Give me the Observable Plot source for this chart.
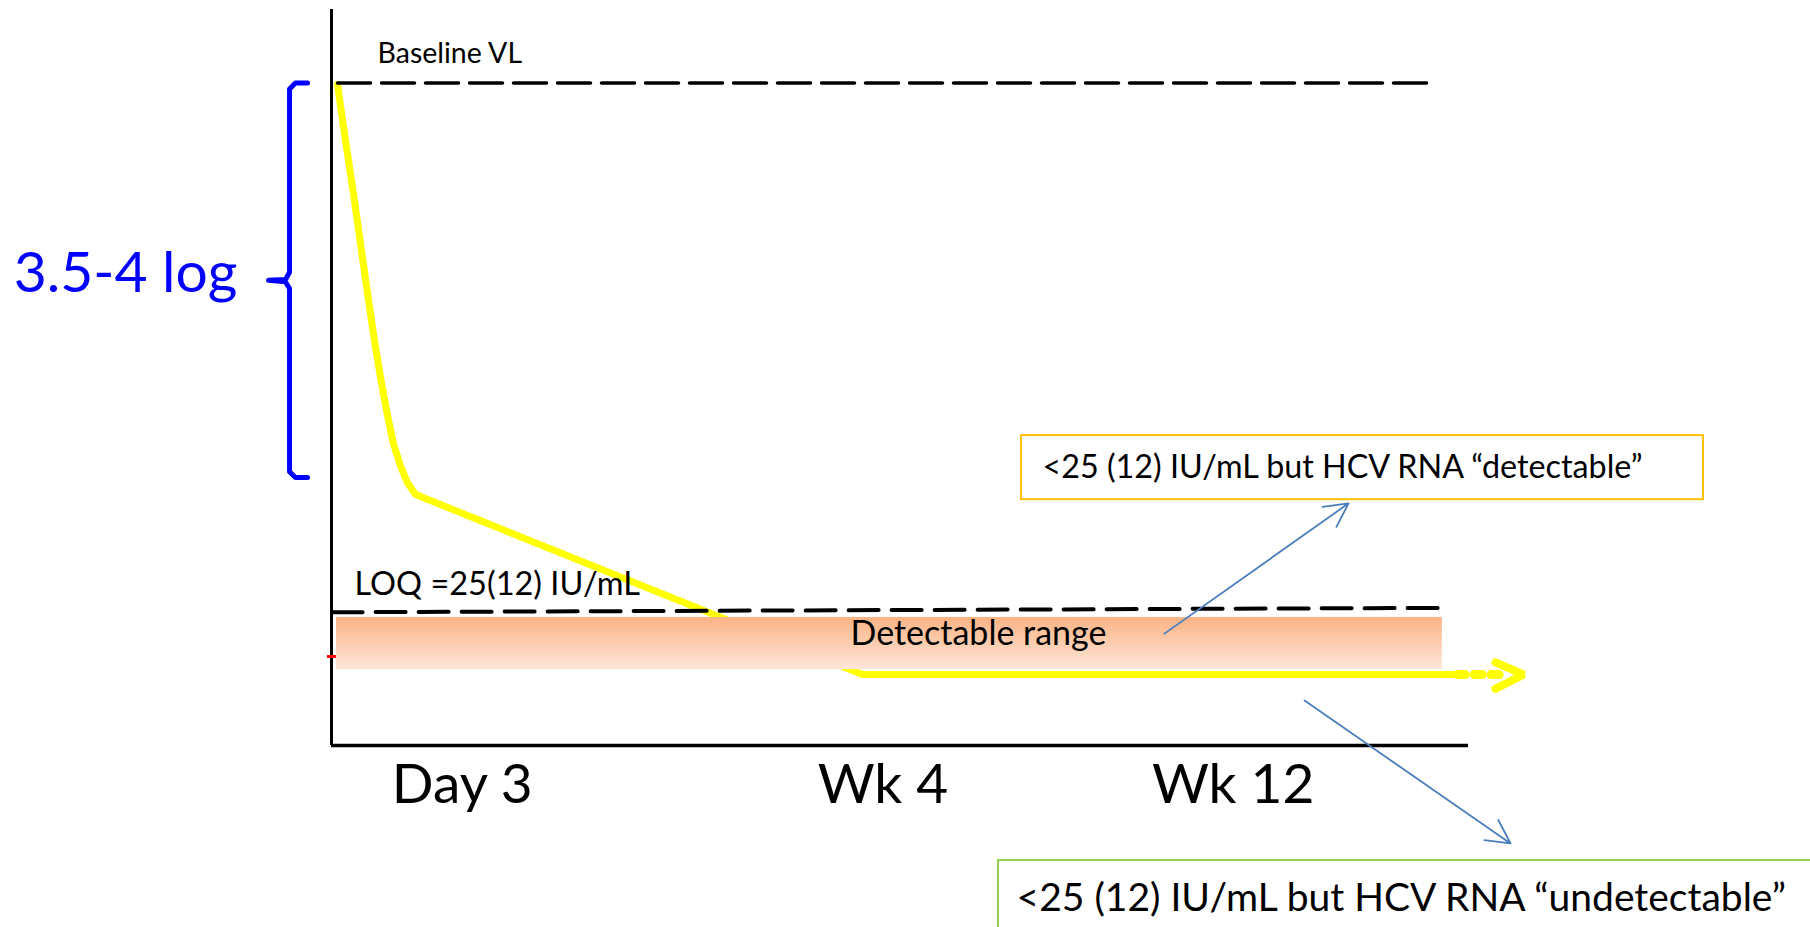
<!DOCTYPE html>
<html>
<head>
<meta charset="utf-8">
<script src="https://cdn.jsdelivr.net/npm/d3@7"></script>
<script src="https://cdn.jsdelivr.net/npm/@observablehq/plot@0.6"></script>
<style>
  html, body { margin: 0; padding: 0; background: #fff; }
  #chart svg { display: block; }
</style>
</head>
<body>
<div id="chart"></div>
<script>
// ---- Data (abstract units: t = time position, v = log viral load) ----
const timeLabels = ["Day 3", "Wk 4", "Wk 12"];
const timeLabelT = [11.5, 48.5, 79.3];

const baselineVL = 9.0;           // baseline viral load level
const loqLevel = [1.81, 1.87];    // LOQ dashed line (left, right)
const bandTop = 1.74;             // detectable range band
const bandBottom = 1.03;

// viral load decline curve (first phase)
const declineT = [0.53, 1.23, 1.93, 2.55, 3.17, 3.78, 4.31, 4.93, 5.45, 6.07, 6.68, 7.39, 46.7, 99.0];
const declineV = [8.98, 8.22, 7.50, 6.82, 6.14, 5.50, 5.00, 4.48, 4.10, 3.80, 3.57, 3.41, 0.965, 0.965];
// dotted continuation and arrow head
const continueT = [99.0, 103.0];
const continueV = [0.965, 0.965];
const chevronT = [102.37, 104.85, 102.37];
const chevronV = [1.13, 0.965, 0.77];

// bracket "3.5-4 log"
const bracketT = [-2.11, -3.17, -3.69, -3.69, -4.05, -5.54, -4.05, -3.69, -3.69, -3.17, -2.11];
const bracketV = [9.0, 9.0, 8.92, 6.43, 6.33, 6.32, 6.30, 6.21, 3.72, 3.64, 3.64];

const labels = [
  {text: "Baseline VL", t: 4.05, v: 9.40, size: 28.5, color: "#000", anchor: "start"},
  {text: "LOQ =25(12) IU/mL", t: 2.02, v: 2.19, size: 32.5, color: "#000", anchor: "start"},
  {text: "Detectable range", t: 56.9, v: 1.51, size: 34, color: "#000", anchor: "middle"},
  {text: "3.5-4 log", t: -27.95, v: 6.41, size: 57, color: "#0000FF", anchor: "start"}
];

const boxes = [
  {text: "<25 (12) IU/mL but HCV RNA \u201Cdetectable\u201D", x1: 60.69, x2: 120.67, y1: 4.21, y2: 3.34, tt: 62.53, tv: 3.78, size: 32.3, stroke: "#FFC000"},
  {text: "<25 (12) IU/mL but HCV RNA \u201Cundetectable\u201D", x1: 58.66, x2: 131, y1: -1.5625, y2: -2.7, tt: 60.25, tv: -2.08, size: 39, stroke: "#92D050"}
];

const arrows = [
  {x1: 73.26, y1: 1.52, x2: 89.45, y2: 3.29},
  {x1: 85.58, y1: 0.61, x2: 103.7, y2: -1.33}
];

const redTickV = 1.21;

// ---- Build ----
const pts = (ts, vs) => ts.map((t, i) => ({t, v: vs[i]}));

const gradientDefs = () => {
  const ns = "http://www.w3.org/2000/svg";
  const defs = document.createElementNS(ns, "defs");
  defs.innerHTML = `<linearGradient id="bandGrad" x1="0" y1="0" x2="0" y2="1">
    <stop offset="0" stop-color="#FBB384"/>
    <stop offset="1" stop-color="#FDE7DA"/>
  </linearGradient>`;
  return defs;
};

const chart = Plot.plot({
  width: 1810,
  height: 927,
  marginLeft: 331,
  marginRight: 342,
  marginTop: 9,
  marginBottom: 182,
  x: {domain: [0, 100], axis: null},
  y: {domain: [0, 10], axis: null},
  style: {fontFamily: "Lato, 'Open Sans', sans-serif", background: "#fff", overflow: "visible"},
  marks: [
    gradientDefs,
    // decline curve
    Plot.line(pts(declineT, declineV), {x: "t", y: "v", stroke: "#FFFF00", strokeWidth: 7, strokeLinejoin: "round", curve: "linear"}),
    Plot.line(pts(continueT, continueV), {x: "t", y: "v", stroke: "#FFFF00", strokeWidth: 9, strokeDasharray: "8,9"}),
    Plot.line(pts(chevronT, chevronV), {x: "t", y: "v", stroke: "#FFFF00", strokeWidth: 8, strokeLinecap: "round", strokeLinejoin: "miter"}),
    // detectable range band
    Plot.rect([{x1: 0.44, x2: 97.7, y1: bandTop, y2: bandBottom}], {x1: "x1", x2: "x2", y1: "y1", y2: "y2", fill: "url(#bandGrad)"}),
    // LOQ dashed line
    Plot.line(pts([0.1, 97.7], loqLevel), {x: "t", y: "v", stroke: "#000", strokeWidth: 4, strokeDasharray: "30,13"}),
    // baseline dashed line
    Plot.line(pts([0.53, 96.6], [baselineVL, baselineVL]), {x: "t", y: "v", stroke: "#000", strokeWidth: 3.5, strokeDasharray: "33,11"}),
    // axes
    Plot.ruleX([0], {y1: 0, y2: 10, stroke: "#000", strokeWidth: 3}),
    Plot.ruleY([0], {x1: 0, x2: 100, stroke: "#000", strokeWidth: 3.5}),
    // red tick
    Plot.ruleY([redTickV], {x1: -0.35, x2: 0.44, stroke: "#FF0000", strokeWidth: 3}),
    // bracket
    Plot.line(pts(bracketT, bracketV), {x: "t", y: "v", stroke: "#0000FF", strokeWidth: 5, strokeLinejoin: "round", strokeLinecap: "round"}),
    // labels
    ...labels.map(d => Plot.text([d], {x: "t", y: "v", text: "text", fontSize: d.size, fill: d.color, textAnchor: d.anchor, lineAnchor: "middle"})),
    // time labels
    Plot.text(timeLabels.map((s, i) => ({s, t: timeLabelT[i]})), {x: "t", y: -0.54, text: "s", fontSize: 55, fill: "#000", lineAnchor: "middle"}),
    // annotation arrows
    Plot.arrow(arrows, {x1: "x1", y1: "y1", x2: "x2", y2: "y2", stroke: "#4A7EBB", strokeWidth: 1.8, headLength: 22, headAngle: 55}),
    // boxes
    Plot.rect(boxes, {x1: "x1", x2: "x2", y1: "y1", y2: "y2", fill: "#fff", stroke: "stroke", strokeWidth: 2}),
    ...boxes.map(d => Plot.text([d], {x: "tt", y: "tv", text: "text", fontSize: d.size, fill: "#000", textAnchor: "start", lineAnchor: "middle"}))
  ]
});

document.getElementById("chart").appendChild(chart);
</script>
</body>
</html>
